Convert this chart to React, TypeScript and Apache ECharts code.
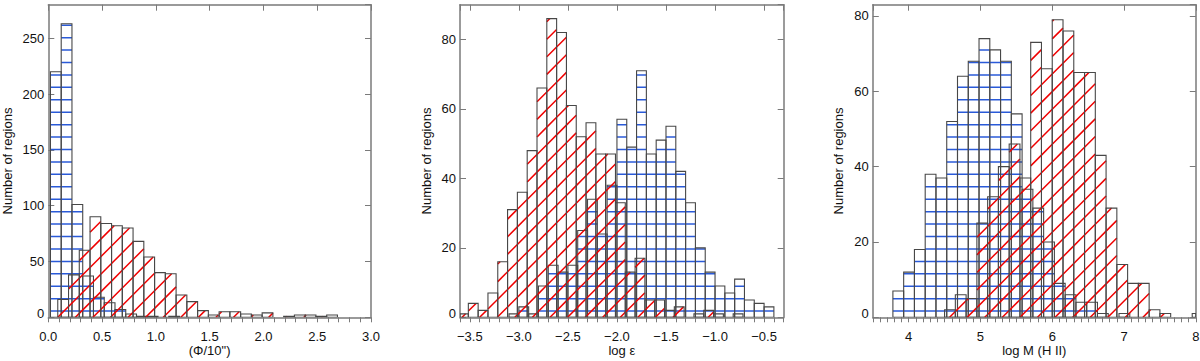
import React, { useEffect, useRef } from 'react';
import * as echarts from 'echarts';

// ---------- Panel 1: (Φ/10") ----------
const PHI_BIN = 0.1;
const PHI_BLUE_START = 0.02;
const PHI_BLUE = [220, 263, 101, 37, 18, 13, 7, 3, 1, 1, 0, 1];
const PHI_RED_START = 0.088;
const PHI_RED = [16, 38, 60, 90, 84, 82, 80, 68, 54, 40, 39, 20, 14, 6, 2, 5, 5, 3, 2, 4, 0, 1, 2, 2, 1, 2];
const PHI_X_LABELS = [0, 0.5, 1.0, 1.5, 2.0, 2.5, 3.0];

// ---------- Panel 2: log ε ----------
const EPS_BIN = 0.1;
const EPS_BLUE_START = -3.1;
const EPS_BLUE = [1, 3, 1, 9, 15, 13, 15, 25, 34, 24, 38, 57, 49, 71, 47, 51, 55, 42, 33, 20, 13, 9, 7, 11, 5, 4, 3];
const EPS_RED_START = -3.615;
const EPS_RED = [1, 4, 2, 7, 16, 31, 36, 48, 66, 86, 82, 61, 52, 56, 47, 47, 33, 13, 17, 5, 5, 2, 3, 0, 1, 2, 1, 0, 1];
const EPS_X_LABELS = [-3.5, -3.0, -2.5, -2.0, -1.5, -1.0, -0.5];

// ---------- Panel 3: log M (H II) ----------
const MASS_BIN = 0.15;
const MASS_BLUE_START = 3.78;
const MASS_BLUE = [7, 12, 18, 38, 37, 52, 64, 68, 74, 71, 68, 54, 34, 29, 20, 9, 6, 4, 4, 1, 0, 1];
const MASS_RED_START = 4.5;
const MASS_RED = [2, 6, 5, 25, 32, 40, 46, 37, 73, 66, 79, 76, 65, 65, 43, 29, 14, 9, 9, 2, 1, 0, 0, 1];
const MASS_X_LABELS = [4, 5, 6, 7, 8];

const Y_LABEL = 'Number of regions';

// ---------- styles ----------
const BLUE = '#2a5ad8';
const RED = '#f00000';
const OUTLINE = '#474747';
const AXIS = '#7a7a7a';
const TEXT = '#111';
const FONT = 'Liberation Sans';
const HATCH_SPACING = 12.43;
const HATCH_OFFSET = 6.2;
const HATCH_WIDTH = 1.5;

const bins = (start: number, width: number, counts: number[]) =>
  counts.map((c, i) => [start + i * width, start + (i + 1) * width, c]);

function makeRenderItem(kind: 'blue' | 'red', anchor: number) {
  return (params: any, api: any) => {
    const x0 = api.value(0);
    const x1 = api.value(1);
    const c = api.value(2);
    if (!c) return { type: 'group', children: [] };
    const cs = params.coordSys;
    const p0 = api.coord([x0, 0]);
    const p1 = api.coord([x1, c]);
    const L = Math.max(p0[0], cs.x);
    const R = Math.min(p1[0], cs.x + cs.width);
    const B = p0[1];
    const T = Math.max(p1[1], cs.y);
    if (R <= L) return { type: 'group', children: [] };
    const children: any[] = [];
    if (kind === 'blue') {
      for (let y = B - HATCH_OFFSET; y > T + 0.6; y -= HATCH_SPACING) {
        children.push({
          type: 'line',
          shape: { x1: L, y1: y, x2: R, y2: y },
          style: { stroke: BLUE, lineWidth: HATCH_WIDTH },
        });
      }
    } else {
      const phase = api.coord([anchor, 0])[0];
      const sp = HATCH_SPACING * Math.SQRT2;
      const uMin = L + T - B;
      const uMax = R;
      const kS = Math.ceil((uMin - phase) / sp);
      const kE = Math.floor((uMax - phase) / sp);
      for (let k = kS; k <= kE; k++) {
        const u = phase + k * sp;
        const xs = Math.max(L, u);
        const xe = Math.min(R, u + B - T);
        if (xe - xs > 0.3) {
          children.push({
            type: 'line',
            shape: { x1: xs, y1: u + B - xs, x2: xe, y2: u + B - xe },
            style: { stroke: RED, lineWidth: HATCH_WIDTH },
          });
        }
      }
    }
    children.push({
      type: 'rect',
      shape: { x: L, y: T, width: R - L, height: B - T },
      style: { fill: 'none', stroke: OUTLINE, lineWidth: 1.1 },
    });
    return { type: 'group', children };
  };
}

const isIn = (v: number, list: number[]) => list.some((t) => Math.abs(t - v) < 1e-6);

interface Panel {
  left: number;
  width: number;
  xmin: number;
  xmax: number;
  xSplit: number;
  xLabels: number[];
  xDigits: number;
  xName: string;
  ymax: number;
  yInterval: number;
  yNameGap: number;
  blue: number[][];
  red: number[][];
  redAnchor: number;
}

const PANELS: Panel[] = [
  {
    left: 48.3, width: 322.7, xmin: 0, xmax: 3, xSplit: 6, xLabels: PHI_X_LABELS, xDigits: 1,
    xName: '(Φ/10")', ymax: 280, yInterval: 50, yNameGap: 34,
    blue: bins(PHI_BLUE_START, PHI_BIN, PHI_BLUE), red: bins(PHI_RED_START, PHI_BIN, PHI_RED), redAnchor: 0.088,
  },
  {
    left: 460, width: 323.7, xmin: -3.6, xmax: -0.3, xSplit: 7, xLabels: EPS_X_LABELS, xDigits: 1,
    xName: 'log ε', ymax: 90, yInterval: 20, yNameGap: 27,
    blue: bins(EPS_BLUE_START, EPS_BIN, EPS_BLUE), red: bins(EPS_RED_START, EPS_BIN, EPS_RED), redAnchor: -3.22,
  },
  {
    left: 872.8, width: 323, xmin: 3.5, xmax: 8, xSplit: 5, xLabels: MASS_X_LABELS, xDigits: 0,
    xName: 'log M (H II)', ymax: 83, yInterval: 20, yNameGap: 28,
    blue: bins(MASS_BLUE_START, MASS_BIN, MASS_BLUE), red: bins(MASS_RED_START, MASS_BIN, MASS_RED), redAnchor: 4.57,
  },
];

const TOP = 4.7;
const HEIGHT = 312.6;

function buildOption() {
  const grid: any[] = [];
  const xAxis: any[] = [];
  const yAxis: any[] = [];
  const series: any[] = [];
  const textStyle = { color: TEXT, fontFamily: FONT, fontSize: 13 };
  PANELS.forEach((p, i) => {
    grid.push({ left: p.left, top: TOP, width: p.width, height: HEIGHT, containLabel: false, outerBoundsMode: 'none' });
    xAxis.push({
      type: 'value', gridIndex: i, position: 'bottom', min: p.xmin, max: p.xmax, interval: 0.1,
      axisLine: { show: true, onZero: false, lineStyle: { color: AXIS, width: 1.5 } },
      axisTick: { show: true, inside: false, length: 5, lineStyle: { color: AXIS, width: 1 } },
      axisLabel: {
        ...textStyle, margin: 13, showMinLabel: true, showMaxLabel: true,
        formatter: (v: number) => (isIn(v, p.xLabels) ? v.toFixed(p.xDigits).replace('-', '−') : ''),
      },
      splitLine: { show: false },
      name: p.xName, nameLocation: 'middle', nameGap: 27, nameTextStyle: textStyle, nameMoveOverlap: false,
    });
    xAxis.push({
      type: 'value', gridIndex: i, position: 'top', min: p.xmin, max: p.xmax, splitNumber: p.xSplit,
      axisLine: { show: true, onZero: false, lineStyle: { color: AXIS, width: 1.5 } },
      axisTick: { show: true, inside: true, length: 6, lineStyle: { color: AXIS, width: 1 } },
      axisLabel: { show: false },
      splitLine: { show: false },
    });
    yAxis.push({
      type: 'value', gridIndex: i, position: 'left', min: 0, max: p.ymax, interval: p.yInterval,
      axisLine: { show: true, onZero: false, lineStyle: { color: AXIS, width: 1.5 } },
      axisTick: { show: true, inside: true, length: 6, lineStyle: { color: AXIS, width: 1 } },
      axisLabel: {
        ...textStyle, margin: 4, showMaxLabel: false,
        formatter: (v: number) => (v === 0 ? '{z|0}' : String(v)),
        rich: { z: { ...textStyle, padding: [0, 0, 8, 0] } },
      },
      splitLine: { show: false },
      name: Y_LABEL, nameLocation: 'middle', nameGap: p.yNameGap, nameRotate: 90, nameTextStyle: textStyle,
      nameMoveOverlap: false,
    });
    yAxis.push({
      type: 'value', gridIndex: i, position: 'right', min: 0, max: p.ymax, interval: p.yInterval,
      axisLine: { show: true, onZero: false, lineStyle: { color: AXIS, width: 1.5 } },
      axisTick: { show: true, inside: true, length: 6, lineStyle: { color: AXIS, width: 1 } },
      axisLabel: { show: false },
      splitLine: { show: false },
    });
    series.push({
      type: 'custom', xAxisIndex: 2 * i, yAxisIndex: 2 * i, clip: true,
      renderItem: makeRenderItem('blue', 0),
      encode: { x: [0, 1], y: 2 },
      data: p.blue,
    });
    series.push({
      type: 'custom', xAxisIndex: 2 * i, yAxisIndex: 2 * i, clip: true,
      renderItem: makeRenderItem('red', p.redAnchor),
      encode: { x: [0, 1], y: 2 },
      data: p.red,
    });
  });
  return {
    animation: false,
    backgroundColor: '#ffffff',
    grid, xAxis, yAxis, series,
  };
}

export default function App() {
  const ref = useRef<HTMLDivElement>(null);
  useEffect(() => {
    if (!ref.current) return;
    const chart = echarts.init(ref.current, undefined, { renderer: 'svg' });
    chart.setOption(buildOption() as any);
    return () => chart.dispose();
  }, []);
  return (
    <div
      ref={ref}
      style={{ position: 'fixed', left: 0, top: 0, width: '1200px', height: '361px', background: '#fff' }}
    />
  );
}
